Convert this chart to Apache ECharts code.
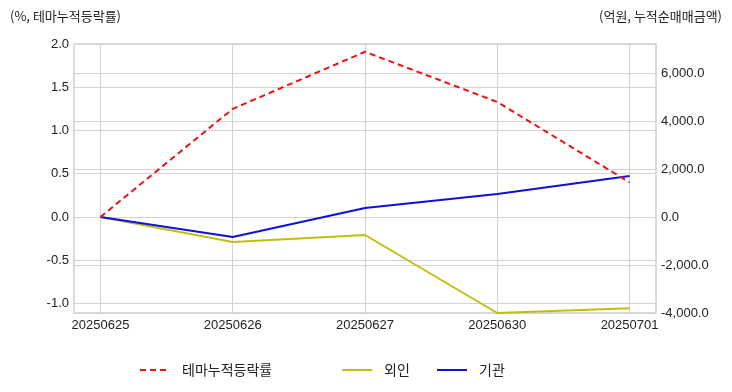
<!DOCTYPE html>
<html><head><meta charset="utf-8">
<script src="https://cdn.jsdelivr.net/npm/echarts@6/dist/echarts.min.js"></script>
<style>html,body{margin:0;padding:0;background:#fff}#c{width:732px;height:392px}</style>
</head><body><div id="c"></div>
<script>
const categories = ['20250625','20250626','20250627','20250630','20250701'];
const themeReturn = [0, 1.25, 1.91, 1.33, 0.40];
const foreign = [0, -1040, -750, -4000, -3800];
const institution = [0, -830, 375, 960, 1710];
const leftTicks = [-1.0, -0.5, 0.0, 0.5, 1.0, 1.5, 2.0];
const rightTicks = [-4000, -2000, 0, 2000, 4000, 6000];

const FONT = '"Liberation Sans", Arial, "Noto Sans CJK KR", sans-serif';
const KFONT = '"Noto Sans CJK KR", "Liberation Sans", sans-serif';
const toPairs = arr => arr.map((v, i) => [i, v]);
const chart = echarts.init(document.getElementById('c'), null, {renderer: 'canvas'});
const splitColor = '#d3d3d3';
const legendCommon = {top: 358, itemWidth: 30, itemHeight: 10, itemStyle: {opacity: 0},
  textStyle: {fontFamily: KFONT, fontSize: 14, color: '#222', padding: [0,0,0,7]}};
chart.setOption({
  animation: false,
  backgroundColor: '#fff',
  grid: {left: 74, right: 76, top: 44, bottom: 79, show: true, borderColor: '#cfcfcf', borderWidth: 1.5, containLabel: false},
  xAxis: {
    type: 'value', min: -0.2, max: 4.2,
    axisLine: {show: false}, axisTick: {show: false, customValues: [0,1,2,3,4]},
    splitLine: {show: true, lineStyle: {color: splitColor, width: 1}},
    axisLabel: {customValues: [0,1,2,3,4], formatter: v => categories[Math.round(v)], color: '#222', fontFamily: FONT, fontSize: 13, margin: 6}
  },
  yAxis: [
    {type: 'value', min: -1.11, max: 2.0, position: 'left',
     axisLine: {show: false}, axisTick: {show: false, customValues: leftTicks},
     splitLine: {show: true, lineStyle: {color: splitColor, width: 1}},
     axisLabel: {customValues: leftTicks, formatter: v => v.toFixed(1), color: '#222', fontFamily: FONT, fontSize: 13, margin: 5}},
    {type: 'value', min: -4000, max: 7208, position: 'right',
     axisLine: {show: false}, axisTick: {show: false, customValues: rightTicks},
     splitLine: {show: true, lineStyle: {color: splitColor, width: 1}},
     axisLabel: {customValues: rightTicks, formatter: v => v.toLocaleString('en-US', {minimumFractionDigits: 1, maximumFractionDigits: 1}), color: '#222', fontFamily: FONT, fontSize: 13, margin: 5}}
  ],
  legend: [
    Object.assign({left: 134, data: ['테마누적등락률']}, legendCommon),
    Object.assign({left: 336, data: ['외인']}, legendCommon),
    Object.assign({left: 431, data: ['기관']}, legendCommon)
  ],
  graphic: [
    {type: 'text', left: 10, top: 10, style: {text: '(%, 테마누적등락률)', font: '13px ' + KFONT, fill: '#222'}},
    {type: 'text', right: 10, top: 10, style: {text: '(억원, 누적순매매금액)', font: '13px ' + KFONT, fill: '#222'}}
  ],
  series: [
    {name: '테마누적등락률', type: 'line', yAxisIndex: 0, data: toPairs(themeReturn), symbol: 'none', z: 3,
     lineStyle: {color: '#ee1111', width: 2, type: [6, 4]}, itemStyle: {color: '#ee1111'}},
    {name: '외인', type: 'line', yAxisIndex: 1, data: toPairs(foreign), symbol: 'none', z: 1,
     lineStyle: {color: '#bfbf10', width: 2}, itemStyle: {color: '#bfbf10'}},
    {name: '기관', type: 'line', yAxisIndex: 1, data: toPairs(institution), symbol: 'none', z: 2,
     lineStyle: {color: '#1010dd', width: 2}, itemStyle: {color: '#1010dd'}}
  ]
});
</script></body></html>
